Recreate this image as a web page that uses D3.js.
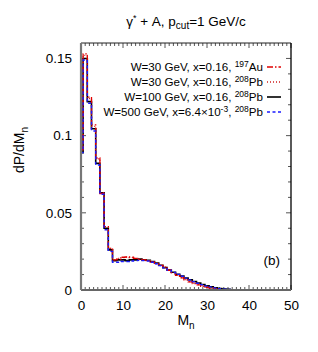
<!DOCTYPE html>
<html><head><meta charset="utf-8">
<script src="https://cdn.jsdelivr.net/npm/d3@7"></script>
<style>body{margin:0;background:#fff}svg{display:block;font-family:"Liberation Sans",Arial,sans-serif}</style>
</head><body><svg id="c" width="318" height="352"></svg>
<script>
const mn = d3.range(0, 51);
const auW30 = [0.091,0.153,0.125,0.107,0.0855,0.0625,0.041,0.027,0.0195,0.020,0.0212,0.0215,0.0213,0.0205,0.0198,0.0195,0.019,0.018,0.0172,0.016,0.0148,0.0128,0.0112,0.0095,0.0078,0.0065,0.0053,0.0042,0.0033,0.0024,0.0017,0.0011,0.0006,0.0003,0.0001,0,0,0,0,0,0,0,0,0,0,0,0,0,0,0,0];
const pbW30 = [0.090,0.152,0.124,0.106,0.085,0.063,0.041,0.027,0.0195,0.0205,0.021,0.0212,0.021,0.0205,0.020,0.0195,0.019,0.018,0.017,0.0158,0.0145,0.013,0.0113,0.0097,0.0081,0.0067,0.0055,0.0044,0.0035,0.0026,0.0019,0.0013,0.0008,0.0004,0.0002,0,0,0,0,0,0,0,0,0,0,0,0,0,0,0,0];
const pbW100 = [0.089,0.150,0.122,0.1045,0.082,0.063,0.040,0.026,0.019,0.0195,0.0195,0.019,0.0195,0.0195,0.0200,0.0195,0.0193,0.0185,0.0175,0.016,0.0145,0.013,0.0115,0.0102,0.009,0.0078,0.0066,0.0055,0.0045,0.0036,0.0028,0.0021,0.0015,0.001,0.0006,0.0004,0.0002,0.0001,0,0,0,0,0,0,0,0,0,0,0,0,0];
const pbW500 = [0.089,0.149,0.121,0.103,0.081,0.062,0.039,0.025,0.018,0.018,0.0185,0.0185,0.0188,0.019,0.0192,0.019,0.0188,0.018,0.017,0.0158,0.0143,0.0128,0.0114,0.0101,0.0089,0.0077,0.0065,0.0054,0.0044,0.0035,0.0027,0.002,0.0014,0.0009,0.0005,0.0003,0.0001,0,0,0,0,0,0,0,0,0,0,0,0,0,0];
const xTicks = [0,10,20,30,40,50];
const yTicks = [0,0.05,0.1,0.15];

const svg = d3.select("#c");
const L=81,R=291,T=43,B=290;
const x = d3.scaleLinear().domain([0,50]).range([L,R]);
const y = d3.scaleLinear().domain([0,0.16]).range([B,T]);

// title
const title = svg.append("text").attr("x",186).attr("y",26).attr("text-anchor","middle").attr("font-size",13.5).attr("fill","#000");
title.append("tspan").text("γ");
title.append("tspan").attr("dy",-5).attr("font-size",9).text("*");
title.append("tspan").attr("dy",5).text(" + A, p");
title.append("tspan").attr("dy",3).attr("font-size",10).text("cut");
title.append("tspan").attr("dy",-3).text("=1 GeV/c");

// ticks
const tk = svg.append("g").attr("stroke","#555").attr("stroke-width",1);
d3.range(0,51,1).forEach(v=>{
  const len = v%10===0?5:3;
  tk.append("line").attr("x1",x(v)).attr("x2",x(v)).attr("y1",B).attr("y2",B-len);
  tk.append("line").attr("x1",x(v)).attr("x2",x(v)).attr("y1",T).attr("y2",T+len);
});
d3.range(0,16,1).forEach(i=>{
  const v=i*0.01; const len = i%5===0?5:3;
  tk.append("line").attr("x1",L).attr("x2",L+len).attr("y1",y(v)).attr("y2",y(v));
  tk.append("line").attr("x1",R).attr("x2",R-len).attr("y1",y(v)).attr("y2",y(v));
});

// tick labels
const xAxis = d3.axisBottom(x).tickValues(xTicks).tickSize(0).tickPadding(10).tickFormat(d3.format("d"));
const gx = svg.append("g").attr("transform",`translate(0,${B})`).call(xAxis);
gx.select(".domain").remove();
gx.selectAll("text").attr("font-size",13.5).attr("font-family","Liberation Sans, Arial, sans-serif").attr("fill","#000");
const yAxis = d3.axisLeft(y).tickValues(yTicks).tickSize(0).tickPadding(9).tickFormat(d=>d===0?"0":String(+d.toFixed(2)));
const gy = svg.append("g").attr("transform",`translate(${L},0)`).call(yAxis);
gy.select(".domain").remove();
gy.selectAll("text").attr("font-size",13.5).attr("font-family","Liberation Sans, Arial, sans-serif").attr("fill","#000");

// axis labels
const xl = svg.append("text").attr("x",186).attr("y",325).attr("text-anchor","middle").attr("font-size",14);
xl.append("tspan").text("M");
xl.append("tspan").attr("dy",4).attr("font-size",10).text("n");
const yl = svg.append("text").attr("transform","translate(24,150) rotate(-90)").attr("text-anchor","middle").attr("font-size",14);
yl.append("tspan").text("dP/dM");
yl.append("tspan").attr("dy",4).attr("font-size",10).text("n");

// clip
svg.append("clipPath").attr("id","clip").append("rect").attr("x",L).attr("y",T-5).attr("width",R-L).attr("height",B-T+5);

const line = d3.line().x(d=>x(d[0])).y(d=>y(d[1])).curve(d3.curveStep);
const series = [
  {v:pbW100, color:"#000", dash:null, w:1.6},
  {v:pbW30, color:"#d02020", dash:"1,2", w:1.3},
  {v:auW30, color:"#e00000", dash:"6,2,1.5,2", w:1.3},
  {v:pbW500, color:"#1a1aff", dash:"3,2.5", w:1.4}
];
const gl = svg.append("g").attr("clip-path","url(#clip)");
series.forEach(s=>{
  gl.append("path").attr("d",line(mn.map((m,i)=>[m,s.v[i]]))).attr("fill","none")
    .attr("stroke",s.color).attr("stroke-width",s.w).attr("stroke-dasharray",s.dash);
});

// frame
svg.append("line").attr("x1",L).attr("x2",R).attr("y1",T).attr("y2",T).attr("stroke","#222").attr("stroke-width",1.2);
svg.append("line").attr("x1",R).attr("x2",R).attr("y1",T).attr("y2",B).attr("stroke","#000").attr("stroke-width",1.3);
svg.append("line").attr("x1",L).attr("x2",R).attr("y1",B).attr("y2",B).attr("stroke","#666").attr("stroke-width",2);
svg.append("line").attr("x1",L).attr("x2",L).attr("y1",T).attr("y2",B).attr("stroke","#777").attr("stroke-width",2.2);

// legend
const leg = [
  {pre:"W=30 GeV, x=0.16, ", sup:"197", el:"Au", s:series[2]},
  {pre:"W=30 GeV, x=0.16, ", sup:"208", el:"Pb", s:series[1]},
  {pre:"W=100 GeV, x=0.16, ", sup:"208", el:"Pb", s:series[0]},
  {pre:"W=500 GeV, x=6.4×10", sup2:"-3", mid:", ", sup:"208", el:"Pb", s:series[3]}
];
leg.forEach((d,i)=>{
  const yy = 71 + i*15;
  const t = svg.append("text").attr("x",263).attr("y",yy).attr("text-anchor","end").attr("font-size",11.6);
  t.append("tspan").text(d.pre);
  if(d.sup2){ t.append("tspan").attr("dy",-4.5).attr("font-size",8.5).text(d.sup2);
    t.append("tspan").attr("dy",4.5).text(d.mid); }
  t.append("tspan").attr("dy",-4.5).attr("font-size",8.5).text(d.sup);
  t.append("tspan").attr("dy",4.5).text(d.el);
  svg.append("line").attr("x1",267).attr("x2",281).attr("y1",yy-4).attr("y2",yy-4)
    .attr("stroke",d.s.color).attr("stroke-width",d.s.w).attr("stroke-dasharray",d.s.dash);
});

svg.append("text").attr("x",280).attr("y",265).attr("text-anchor","end").attr("font-size",13.5).text("(b)");
</script></body></html>
